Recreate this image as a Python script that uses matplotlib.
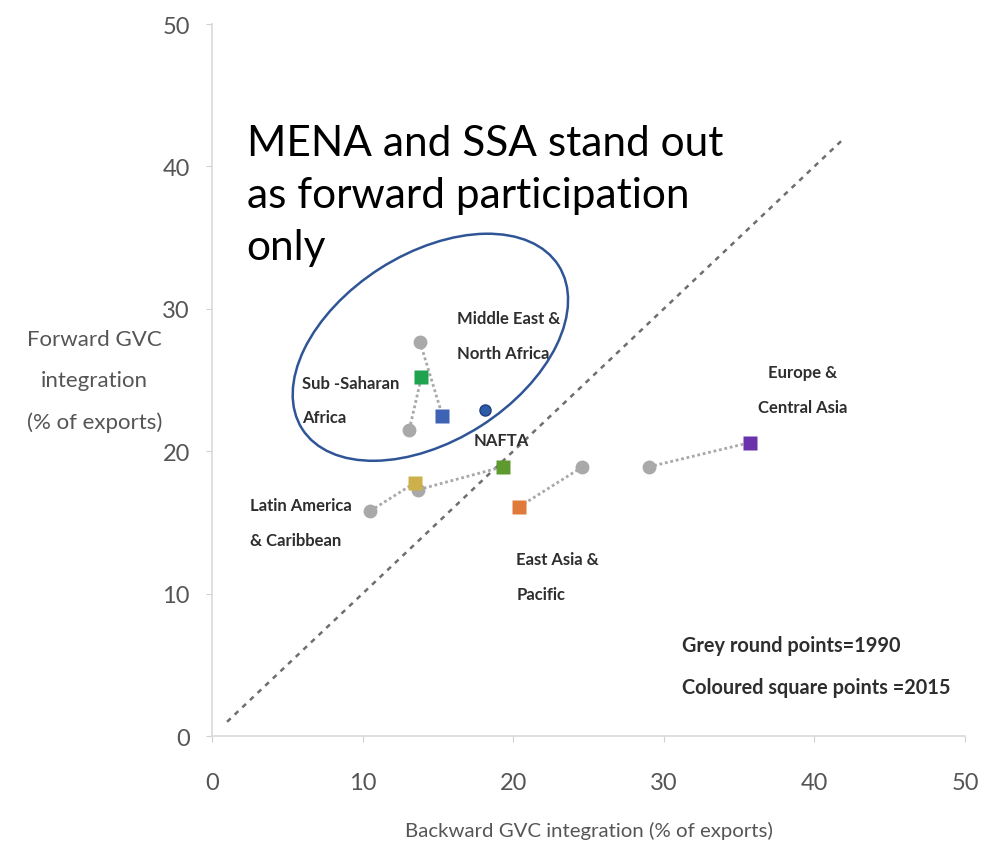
import numpy as np
import matplotlib
matplotlib.use("Agg")
import matplotlib.pyplot as plt
from matplotlib.patches import Ellipse
from matplotlib.transforms import ScaledTranslation

plt.rcParams['font.family'] = ['Lato', 'DejaVu Sans']

# GVC integration by region, 1990 (grey circles) and 2015 (coloured squares)
regions = ["Middle East &\nNorth Africa", "Sub -Saharan\nAfrica", "NAFTA",
           "Latin America\n& Caribbean", "East Asia &\nPacific", "Europe &\nCentral Asia"]
back_1990 = [13.8, 13.1, 13.7, 10.5, 24.6, 29.0]
fwd_1990 = [27.7, 21.5, 17.3, 15.8, 18.9, 18.9]
back_2015 = [15.3, 13.9, 19.3, 13.5, 20.4, 35.7]
fwd_2015 = [22.5, 25.2, 18.9, 17.8, 16.1, 20.6]
colors_2015 = ["#3f63b4", "#1fa34f", "#5e9a2e", "#cdb04a", "#e07a3a", "#6a32ab"]

# label anchors (left/centre of each text block)
label_x = [16.3, 6.0, 17.4, 2.5, 20.2, 39.2]
label_y = [28.1, 23.6, 20.8, 15.0, 11.2, 24.35]
label_ha = ["left", "left", "left", "left", "left", "center"]

ticks = [0, 10, 20, 30, 40, 50]

fig = plt.figure(figsize=(9.94, 8.45), dpi=100)
ax = fig.add_axes([0.2133, 0.1278, 0.7575, 0.8426])
ax.set_xlim(0, 50)
ax.set_ylim(0, 50)

# 45 degree reference line
ax.plot([1, 42], [1, 42], color="#6e6e6e", lw=1.8, ls=(0, (2, 2.2)), zorder=1)

for i in range(len(regions)):
    ax.plot([back_1990[i], back_2015[i]], [fwd_1990[i], fwd_2015[i]],
            color="#a8a8a8", lw=2, ls=(0, (1, 1)), zorder=2)
    ax.plot(back_1990[i], fwd_1990[i], "o", ms=10, color="#a9a9a9", mec="none", zorder=3)
    ax.plot(back_2015[i], fwd_2015[i], "s", ms=10, color=colors_2015[i], mec="none", zorder=4)
    ax.text(label_x[i], label_y[i], regions[i], ha=label_ha[i], va="center",
            fontsize=12, fontweight="bold", color="#2e2e2e", linespacing=2.45)

ax.text(31.2, 4.9, "Grey round points=1990\nColoured square points =2015",
        ha="left", va="center", fontsize=14.3, fontweight="bold", color="#2e2e2e",
        linespacing=2.4)

# highlight around MENA / SSA
cx, cy = 14.5, 27.3
trans = fig.dpi_scale_trans + ScaledTranslation(cx, cy, ax.transData)
ax.add_patch(Ellipse((0, 0), width=3.04, height=1.87, angle=32.5, transform=trans,
                     fill=False, ec="#2f5597", lw=1.8, zorder=5))
ax.plot(18.1, 22.9, "o", ms=8, color="#2e5ca8", mec="#1f3f80", mew=1, zorder=6)

ax.text(2.3, 43.0, "MENA and SSA stand out\nas forward participation\nonly",
        ha="left", va="top", fontsize=30.5, color="black", linespacing=1.46, zorder=6)

ax.set_xticks(ticks)
ax.set_yticks(ticks)
for s in ["top", "right"]:
    ax.spines[s].set_visible(False)
for s in ["left", "bottom"]:
    ax.spines[s].set_color("#d9d9d9")
    ax.spines[s].set_linewidth(1.2)
ax.tick_params(colors="#d0d0d0", labelcolor="#555555", labelsize=17, length=4)
ax.tick_params(axis="x", pad=22)
ax.tick_params(axis="y", pad=12)

ax.set_xlabel("Backward GVC integration (% of exports)", fontsize=14.7, color="#555555", labelpad=20)
fig.text(0.095, 0.548, "Forward GVC\nintegration\n(% of exports)", ha="center", va="center",
         fontsize=16, color="#555555", linespacing=2.3)

fig.savefig("out.png", dpi=100)
